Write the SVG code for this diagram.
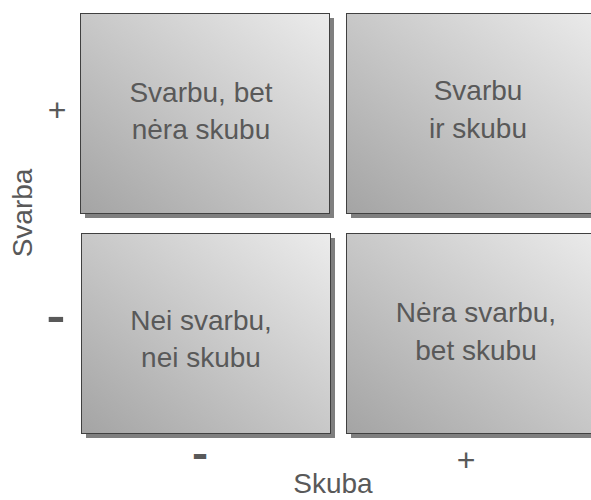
<svg xmlns="http://www.w3.org/2000/svg" width="591" height="500" viewBox="0 0 591 500">
<defs>
<linearGradient id="g" x1="0" y1="1" x2="1" y2="0">
<stop offset="0" stop-color="#a4a4a4"/>
<stop offset="1" stop-color="#ececec"/>
</linearGradient>
</defs>
<style>
.sh{fill:#7f7f7f}
.bx{fill:url(#g);stroke:#404040;stroke-width:1}
.t{font-family:"Liberation Sans",Arial,sans-serif;font-size:28px;fill:#595959;text-anchor:middle}
.dash{font-family:"Liberation Sans",Arial,sans-serif;font-size:42px;font-weight:bold;fill:#595959;text-anchor:middle}
.pl{font-family:"Liberation Sans",Arial,sans-serif;font-size:32px;fill:#595959;text-anchor:middle}
</style>
<rect width="591" height="500" fill="#ffffff"/>
<g id="q1">
<rect class="sh" x="85" y="18" width="249" height="200"/>
<rect class="bx" x="80.5" y="13.5" width="249" height="200"/>
<text class="t" x="201" y="102">Svarbu, bet</text>
<text class="t" x="201" y="139">nėra skubu</text>
</g>
<g id="q2">
<rect class="sh" x="351" y="18" width="260" height="200"/>
<rect class="bx" x="346.5" y="13.5" width="260" height="200"/>
<text class="t" x="478" y="100">Svarbu</text>
<text class="t" x="478" y="138">ir skubu</text>
</g>
<g id="q3">
<rect class="sh" x="86" y="238" width="249" height="200"/>
<rect class="bx" x="81.5" y="233.5" width="249" height="200"/>
<text class="t" x="201" y="330">Nei svarbu,</text>
<text class="t" x="201" y="367">nei skubu</text>
</g>
<g id="q4">
<rect class="sh" x="351" y="238" width="260" height="200"/>
<rect class="bx" x="346.5" y="233.5" width="260" height="200"/>
<text class="t" x="476" y="322">Nėra svarbu,</text>
<text class="t" x="476" y="360">bet skubu</text>
</g>
<g id="axes">
<text class="pl" x="57" y="121">+</text>
<text class="dash" transform="translate(56,331) scale(1.35,1)" x="0" y="0">-</text>
<text class="dash" transform="translate(200,468) scale(1.15,1)" x="0" y="0">-</text>
<text class="pl" x="466" y="471">+</text>
<text class="t" x="333" y="493">Skuba</text>
<text class="t" transform="translate(32,213) rotate(-90)" x="0" y="0">Svarba</text>
</g>
<g id="connectors"></g>
</svg>
